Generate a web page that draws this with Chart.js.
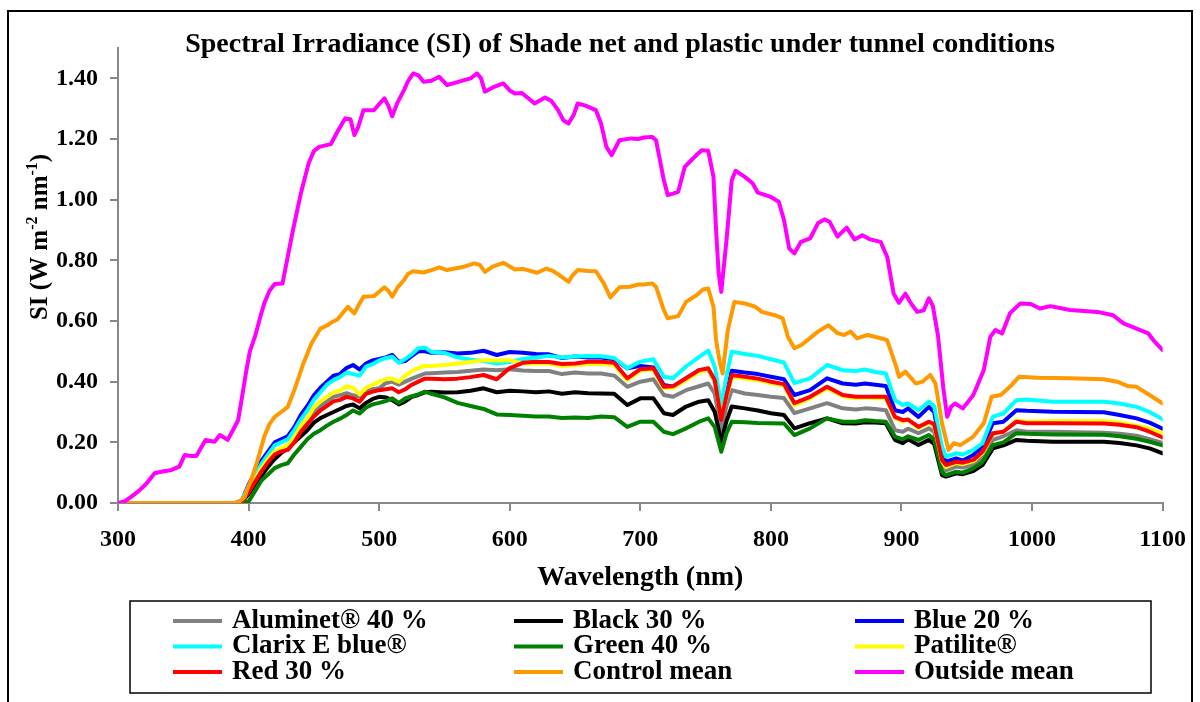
<!DOCTYPE html>
<html lang="en">
<head>
  <meta charset="UTF-8" />
  <title>Spectral Irradiance - Shade net and plastic</title>
  <style>
    html, body { margin: 0; padding: 0; background: #fff; }
    #wrap { width: 1200px; height: 702px; }
  </style>
</head>
<body>
  <div id="wrap"><canvas id="siChart" width="1200" height="702"></canvas></div>

  <script src="https://cdn.jsdelivr.net/npm/chart.js"></script>
  <script>
    // ---- data (SI in W m-2 nm-1) ----
    const outsideWl = [300, 305, 310, 316, 322, 328, 334, 341, 347, 351, 356, 360, 367, 374, 378, 384, 388, 392, 395, 398,
      401, 405, 409, 412, 416, 420, 426, 430, 434, 440, 446, 450, 454, 463, 468, 474, 478, 481, 484, 488,
      496, 500, 504, 507, 510, 514, 519, 522, 526, 530, 534, 540, 546, 552, 558, 565, 570, 575, 578, 581,
      587, 595, 600, 604, 609, 614, 619, 627, 632, 637, 641, 645, 649, 652, 658, 666, 670, 674, 678, 684,
      693, 698, 703, 709, 712, 715, 718, 721, 725, 729, 734, 739, 743, 747, 752, 756, 758, 760, 762, 766,
      770, 773, 780, 786, 790, 800, 806, 810, 814, 818, 823, 830, 836, 841, 845, 851, 858, 864, 870, 876,
      884, 889, 894, 898, 903, 907, 912, 917, 921, 924, 926, 928, 932, 935, 938, 941, 947, 955, 963, 968,
      972, 977, 983, 991, 999, 1006, 1014, 1029, 1050, 1062, 1070, 1080, 1089, 1094, 1100];
    const outsideMean = [0, 0.005, 0.02, 0.04, 0.065, 0.098, 0.104, 0.109, 0.12, 0.158, 0.155, 0.155, 0.208, 0.202, 0.224, 0.208, 0.24, 0.273, 0.35, 0.43,
      0.50, 0.55, 0.614, 0.658, 0.70, 0.722, 0.724, 0.812, 0.90, 1.02, 1.12, 1.16, 1.174, 1.183, 1.224, 1.268, 1.265, 1.213, 1.24, 1.295,
      1.295, 1.315, 1.334, 1.31, 1.275, 1.32, 1.361, 1.39, 1.416, 1.41, 1.389, 1.392, 1.405, 1.378, 1.385, 1.394, 1.40, 1.416, 1.40, 1.356,
      1.37, 1.383, 1.36, 1.35, 1.352, 1.335, 1.317, 1.337, 1.325, 1.295, 1.262, 1.251, 1.28, 1.317, 1.31, 1.295, 1.25, 1.174, 1.147, 1.196,
      1.202, 1.20, 1.205, 1.207, 1.196, 1.13, 1.064, 1.015, 1.02, 1.026, 1.108, 1.13, 1.147, 1.163, 1.161, 1.075, 0.90, 0.757, 0.696, 0.867,
      1.064, 1.095, 1.075, 1.054, 1.023, 1.009, 0.993, 0.933, 0.839, 0.823, 0.861, 0.872, 0.922, 0.935, 0.927, 0.878, 0.908, 0.869, 0.883, 0.869,
      0.861, 0.812, 0.69, 0.66, 0.69, 0.66, 0.63, 0.635, 0.675, 0.65, 0.60, 0.55, 0.38, 0.284, 0.317, 0.328, 0.312, 0.356, 0.438, 0.548,
      0.570, 0.559, 0.625, 0.658, 0.656, 0.641, 0.649, 0.636, 0.630, 0.619, 0.592, 0.575, 0.559, 0.531, 0.504];

    const controlWl = [300, 390, 393, 397, 399, 402, 407, 412, 416, 420, 425, 430, 435, 442, 448, 455, 460, 463, 468, 476,
      481, 484, 488, 496, 504, 507, 510, 514, 519, 522, 526, 534, 540, 546, 552, 558, 565, 573, 577, 581,
      587, 595, 600, 604, 610, 621, 628, 633, 638, 645, 648, 652, 660, 666, 672, 677, 684, 692, 698, 703,
      709, 712, 718, 721, 729, 735, 743, 748, 752, 756, 758, 761, 763, 767, 772, 780, 788, 793, 803, 809,
      813, 818, 823, 828, 836, 844, 851, 856, 861, 866, 874, 884, 889, 896, 898, 903, 911, 916, 922, 926,
      931, 936, 940, 945, 955, 963, 969, 976, 983, 990, 1004, 1029, 1055, 1065, 1073, 1080, 1090, 1100];
    const controlMean = [0, 0, 0.005, 0.02, 0.045, 0.076, 0.142, 0.219, 0.26, 0.284, 0.30, 0.317, 0.372, 0.46, 0.525, 0.575, 0.585, 0.594, 0.605, 0.647,
      0.625, 0.65, 0.68, 0.682, 0.711, 0.70, 0.68, 0.71, 0.735, 0.755, 0.764, 0.76, 0.768, 0.777, 0.768, 0.773, 0.779, 0.79, 0.785, 0.762,
      0.779, 0.792, 0.78, 0.77, 0.772, 0.759, 0.773, 0.765, 0.751, 0.729, 0.75, 0.768, 0.765, 0.764, 0.724, 0.678, 0.711, 0.713, 0.72, 0.72,
      0.724, 0.713, 0.636, 0.609, 0.616, 0.663, 0.685, 0.704, 0.707, 0.647, 0.537, 0.46, 0.427, 0.57, 0.663, 0.658, 0.647, 0.63, 0.619, 0.609,
      0.548, 0.51, 0.52, 0.537, 0.565, 0.586, 0.56, 0.554, 0.565, 0.543, 0.554, 0.543, 0.537, 0.449, 0.416, 0.433, 0.394, 0.40, 0.422, 0.394,
      0.263, 0.175, 0.197, 0.191, 0.219, 0.263, 0.35, 0.356, 0.383, 0.416, 0.413, 0.411, 0.408, 0.40, 0.386, 0.383, 0.356, 0.328];

    // shade nets and plastic share one wavelength grid
    const netWl = [300, 390, 395,
      400, 405, 410, 415, 420, 425, 430, 435, 440, 445, 450, 455, 460, 465, 470, 475, 480, 485, 490, 495, 500, 505, 510, 515, 520, 525, 530, 535, 540,
      550, 560, 570, 580, 590, 600, 610, 620, 630, 640, 650, 660, 670, 680, 690,
      700, 710,
      718, 725, 735, 745, 752, 757, 762, 766, 770,
      780, 790, 800, 810,
      818, 830, 843, 855, 865, 872, 880, 888,
      895, 901, 905, 913, 921, 925,
      931, 934, 942, 947, 955, 962, 970, 978, 988, 996,
      1016, 1055, 1067, 1080, 1090, 1100];

    const aluminet40 = [0, 0, 0.006,
      0.04, 0.075, 0.11, 0.14, 0.165, 0.175, 0.185, 0.21, 0.245, 0.27, 0.30, 0.32, 0.335, 0.35, 0.355, 0.362, 0.355, 0.35, 0.37, 0.375, 0.378, 0.395, 0.40, 0.39, 0.40, 0.41, 0.418, 0.427, 0.428,
      0.43, 0.432, 0.436, 0.44, 0.438, 0.441, 0.437, 0.435, 0.435, 0.425, 0.43, 0.427, 0.427, 0.42, 0.383,
      0.40, 0.408,
      0.356, 0.35, 0.372, 0.385, 0.394, 0.36, 0.24, 0.32, 0.372,
      0.361, 0.356, 0.35, 0.346,
      0.296, 0.312, 0.329, 0.312, 0.308, 0.312, 0.31, 0.306,
      0.24, 0.235, 0.245, 0.23, 0.246, 0.235,
      0.118, 0.108, 0.12, 0.117, 0.128, 0.148, 0.208, 0.22, 0.24, 0.235,
      0.235, 0.232, 0.228, 0.222, 0.21, 0.198];

    const black30 = [0, 0, 0.004,
      0.03, 0.06, 0.09, 0.12, 0.145, 0.165, 0.18, 0.20, 0.22, 0.24, 0.265, 0.28, 0.29, 0.30, 0.31, 0.32, 0.325, 0.312, 0.33, 0.343, 0.35, 0.348, 0.339, 0.325, 0.335, 0.35, 0.356, 0.365, 0.367,
      0.364, 0.365, 0.37, 0.378, 0.365, 0.37, 0.368, 0.365, 0.368, 0.36, 0.365, 0.362, 0.361, 0.36, 0.323,
      0.345, 0.345,
      0.296, 0.29, 0.318, 0.334, 0.339, 0.30, 0.202, 0.27, 0.318,
      0.312, 0.305, 0.296, 0.29,
      0.246, 0.263, 0.279, 0.263, 0.262, 0.266, 0.265, 0.263,
      0.208, 0.197, 0.21, 0.191, 0.208, 0.195,
      0.092, 0.087, 0.098, 0.095, 0.105, 0.125, 0.18, 0.19, 0.208, 0.205,
      0.202, 0.202, 0.198, 0.19, 0.18, 0.164];

    const blue20 = [0, 0, 0.01,
      0.06, 0.10, 0.14, 0.17, 0.20, 0.21, 0.22, 0.25, 0.29, 0.32, 0.355, 0.38, 0.40, 0.42, 0.425, 0.445, 0.455, 0.44, 0.46, 0.47, 0.475, 0.48, 0.488, 0.465, 0.468, 0.485, 0.50, 0.50, 0.495,
      0.497, 0.493, 0.495, 0.502, 0.488, 0.498, 0.495, 0.491, 0.49, 0.478, 0.483, 0.48, 0.48, 0.474, 0.444,
      0.452, 0.447,
      0.389, 0.383, 0.411, 0.438, 0.44, 0.40, 0.29, 0.36, 0.436,
      0.430, 0.425, 0.416, 0.408,
      0.356, 0.372, 0.411, 0.394, 0.39, 0.394, 0.39, 0.386,
      0.306, 0.30, 0.312, 0.284, 0.317, 0.30,
      0.165, 0.136, 0.147, 0.14, 0.158, 0.186, 0.263, 0.268, 0.306, 0.304,
      0.301, 0.299, 0.29, 0.279, 0.265, 0.245];

    const clarixBlue = [0, 0, 0.01,
      0.055, 0.09, 0.13, 0.16, 0.19, 0.20, 0.21, 0.24, 0.275, 0.305, 0.34, 0.365, 0.39, 0.405, 0.415, 0.43, 0.425, 0.42, 0.45, 0.458, 0.47, 0.478, 0.482, 0.462, 0.475, 0.49, 0.51, 0.512, 0.498,
      0.495, 0.48, 0.472, 0.468, 0.46, 0.465, 0.475, 0.48, 0.485, 0.48, 0.483, 0.485, 0.484, 0.478, 0.444,
      0.466, 0.474,
      0.416, 0.411, 0.45, 0.482, 0.502, 0.45, 0.32, 0.42, 0.499,
      0.491, 0.485, 0.474, 0.463,
      0.395, 0.411, 0.455, 0.438, 0.435, 0.44, 0.432, 0.427,
      0.339, 0.323, 0.328, 0.306, 0.334, 0.32,
      0.186, 0.153, 0.164, 0.16, 0.175, 0.197, 0.285, 0.295, 0.339, 0.341,
      0.334, 0.334, 0.328, 0.317, 0.30, 0.276];

    const green40 = [0, 0, 0,
      0.005, 0.04, 0.075, 0.095, 0.115, 0.125, 0.131, 0.16, 0.185, 0.21, 0.228, 0.24, 0.255, 0.268, 0.278, 0.29, 0.305, 0.295, 0.315, 0.325, 0.33, 0.336, 0.345, 0.33, 0.345, 0.352, 0.358, 0.367, 0.36,
      0.348, 0.33, 0.32, 0.31, 0.292, 0.29, 0.288, 0.285, 0.285, 0.28, 0.282, 0.28, 0.285, 0.283, 0.251,
      0.268, 0.268,
      0.235, 0.227, 0.246, 0.268, 0.279, 0.25, 0.169, 0.23, 0.268,
      0.266, 0.264, 0.263, 0.262,
      0.224, 0.246, 0.279, 0.268, 0.268, 0.273, 0.27, 0.268,
      0.219, 0.21, 0.22, 0.208, 0.224, 0.21,
      0.102, 0.092, 0.103, 0.1, 0.115, 0.135, 0.191, 0.2, 0.23, 0.228,
      0.226, 0.225, 0.22, 0.212, 0.202, 0.19];

    const patilite = [0, 0, 0.008,
      0.045, 0.08, 0.115, 0.145, 0.17, 0.18, 0.19, 0.215, 0.255, 0.28, 0.315, 0.335, 0.35, 0.365, 0.37, 0.385, 0.38, 0.358, 0.38, 0.39, 0.40, 0.408, 0.41, 0.40, 0.42, 0.435, 0.445, 0.452, 0.452,
      0.455, 0.46, 0.465, 0.471, 0.47, 0.471, 0.46, 0.46, 0.46, 0.452, 0.455, 0.458, 0.458, 0.455, 0.405,
      0.436, 0.44,
      0.378, 0.38, 0.405, 0.432, 0.44, 0.40, 0.28, 0.35, 0.415,
      0.41, 0.405, 0.395, 0.388,
      0.322, 0.345, 0.378, 0.352, 0.345, 0.348, 0.345, 0.345,
      0.28, 0.268, 0.275, 0.247, 0.265, 0.255,
      0.138, 0.118, 0.132, 0.128, 0.138, 0.165, 0.228, 0.235, 0.272, 0.268,
      0.27, 0.27, 0.265, 0.255, 0.245, 0.229];

    const red30 = [0, 0, 0.006,
      0.035, 0.07, 0.105, 0.135, 0.16, 0.17, 0.175, 0.20, 0.235, 0.26, 0.285, 0.305, 0.32, 0.335, 0.34, 0.35, 0.345, 0.334, 0.36, 0.367, 0.372, 0.375, 0.378, 0.365, 0.375, 0.39, 0.40, 0.41, 0.41,
      0.408, 0.41, 0.415, 0.422, 0.408, 0.445, 0.462, 0.466, 0.465, 0.458, 0.46, 0.466, 0.466, 0.462, 0.411,
      0.441, 0.444,
      0.383, 0.385, 0.411, 0.438, 0.444, 0.405, 0.274, 0.355, 0.422,
      0.416, 0.41, 0.40, 0.392,
      0.329, 0.35, 0.383, 0.356, 0.35, 0.35, 0.35, 0.35,
      0.284, 0.273, 0.275, 0.251, 0.268, 0.26,
      0.142, 0.125, 0.136, 0.133, 0.142, 0.169, 0.23, 0.235, 0.268, 0.263,
      0.263, 0.262, 0.258, 0.25, 0.235, 0.216];

    const yTicks = [0, 0.2, 0.4, 0.6, 0.8, 1.0, 1.2, 1.4];
    const xTicks = [300, 400, 500, 600, 700, 800, 900, 1000, 1100];

    const series = [
      { label: 'Aluminet® 40 %', wl: netWl, si: aluminet40, color: '#808080' },
      { label: 'Black 30 %', wl: netWl, si: black30, color: '#000000' },
      { label: 'Blue 20 %', wl: netWl, si: blue20, color: '#0000ff' },
      { label: 'Clarix E blue®', wl: netWl, si: clarixBlue, color: '#00ffff' },
      { label: 'Green 40 %', wl: netWl, si: green40, color: '#008000' },
      { label: 'Patilite®', wl: netWl, si: patilite, color: '#ffff00' },
      { label: 'Red 30 %', wl: netWl, si: red30, color: '#ff0000' },
      { label: 'Control mean', wl: controlWl, si: controlMean, color: '#ff9900' },
      { label: 'Outside mean', wl: outsideWl, si: outsideMean, color: '#ff00ff' }
    ];

    const serif = '"Liberation Serif", "Times New Roman", serif';
    Chart.defaults.font.family = serif;
    Chart.defaults.font.weight = 'bold';
    Chart.defaults.font.size = 24;
    Chart.defaults.color = '#000';

    // frame, title, axis titles and the boxed three-column legend
    const decorations = {
      id: 'decorations',
      afterDraw(chart) {
        const { ctx, chartArea } = chart;
        ctx.save();

        ctx.strokeStyle = '#000';
        ctx.lineWidth = 2;
        ctx.strokeRect(8, 11, 1184, 720);

        ctx.fillStyle = '#000';
        ctx.textAlign = 'center';
        ctx.textBaseline = 'alphabetic';
        ctx.font = 'bold 28px ' + serif;
        ctx.fillText('Spectral Irradiance (SI) of Shade net and plastic under tunnel conditions', 620, 52);

        ctx.font = 'bold 28px ' + serif;
        ctx.textBaseline = 'middle';
        ctx.fillText('Wavelength (nm)', (chartArea.left + chartArea.right) / 2, 578);

        // y title with superscripts, rotated
        const parts = [['SI (W m', false], ['-2', true], [' nm', false], ['-1', true], [')', false]];
        const big = 'bold 25px ' + serif, small = 'bold 16px ' + serif;
        let total = 0;
        parts.forEach(([t, sup]) => { ctx.font = sup ? small : big; total += ctx.measureText(t).width; });
        ctx.translate(47, 237);
        ctx.rotate(-Math.PI / 2);
        ctx.textAlign = 'left';
        ctx.textBaseline = 'alphabetic';
        let px = -total / 2;
        parts.forEach(([t, sup]) => {
          ctx.font = sup ? small : big;
          ctx.fillText(t, px, sup ? -10 : 0);
          px += ctx.measureText(t).width;
        });
        ctx.setTransform(1, 0, 0, 1, 0, 0);

        // legend
        ctx.lineWidth = 1.5;
        ctx.strokeRect(130, 601, 1021, 92);
        const cols = [173, 514, 855];
        const rows = [621, 646.5, 672];
        ctx.font = 'bold 27px ' + serif;
        ctx.textAlign = 'left';
        ctx.textBaseline = 'middle';
        chart.data.datasets.forEach((ds, i) => {
          const x = cols[i % 3], y = rows[Math.floor(i / 3)];
          ctx.strokeStyle = ds.borderColor;
          ctx.lineWidth = 4;
          ctx.beginPath();
          ctx.moveTo(x, y);
          ctx.lineTo(x + 49, y);
          ctx.stroke();
          ctx.fillStyle = '#000';
          ctx.fillText(ds.label, x + 59, y);
        });
        ctx.restore();
      }
    };

    new Chart(document.getElementById('siChart'), {
      type: 'line',
      data: {
        datasets: series.map((s, i) => ({
          label: s.label,
          data: s.wl.map((w, j) => ({ x: w, y: s.si[j] })),
          borderColor: s.color,
          backgroundColor: s.color,
          borderWidth: 4,
          pointRadius: 0,
          tension: 0,
          borderJoinStyle: 'round',
          borderCapStyle: 'round',
          fill: false,
          order: series.length - i
        }))
      },
      options: {
        responsive: false,
        animation: false,
        layout: { padding: { top: 48, right: 34, left: 0, bottom: 0 } },
        plugins: {
          legend: { display: false },
          title: { display: false },
          tooltip: { enabled: false }
        },
        scales: {
          x: {
            type: 'linear',
            min: 300,
            max: 1100,
            afterBuildTicks: scale => { scale.ticks = xTicks.map(v => ({ value: v })); },
            afterFit: scale => { scale.height = 199; },
            ticks: { callback: v => String(v), padding: 14, maxRotation: 0 },
            grid: { drawOnChartArea: false, tickLength: 8, color: '#888', lineWidth: 2 },
            border: { color: '#888', width: 2 }
          },
          y: {
            min: 0,
            max: 1.5,
            afterBuildTicks: scale => { scale.ticks = yTicks.map(v => ({ value: v })); },
            afterFit: scale => { scale.width = 118; },
            ticks: { callback: v => v.toFixed(2), padding: 12 },
            grid: { drawOnChartArea: false, tickLength: 8, color: '#888', lineWidth: 2 },
            border: { color: '#888', width: 2 }
          }
        }
      },
      plugins: [decorations]
    });
  </script>
</body>
</html>
